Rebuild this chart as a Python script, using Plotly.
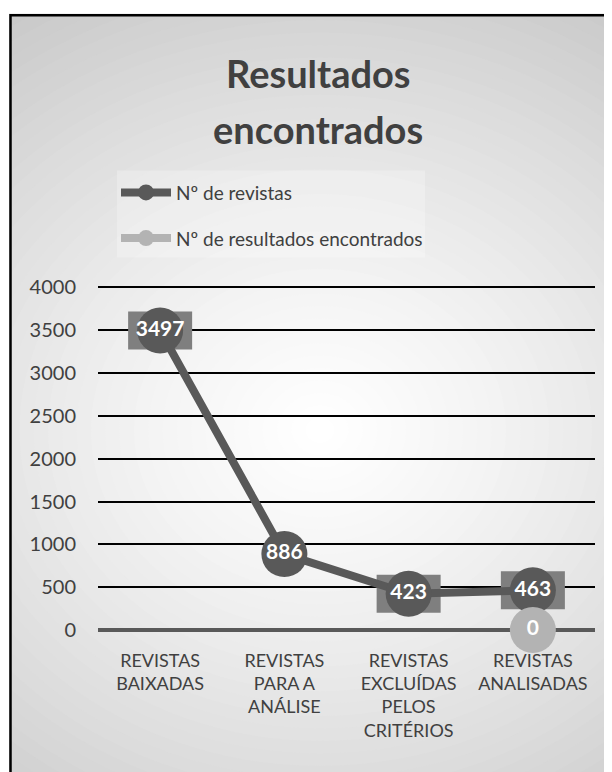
import plotly.graph_objects as go

categories = ["REVISTAS<br>BAIXADAS", "REVISTAS<br>PARA A<br>ANÁLISE",
              "REVISTAS<br>EXCLUÍDAS<br>PELOS<br>CRITÉRIOS", "REVISTAS<br>ANALISADAS"]
revistas = [3497, 886, 423, 463]
resultados = [None, None, None, 0]
label_boxed = [True, False, True, True]
y_ticks = [0, 500, 1000, 1500, 2000, 2500, 3000, 3500, 4000]
title_lines = ["Resultados", "encontrados"]

OFF = 8  # default page body margin
W, H = 612 - OFF, 772 - OFF
YMAX = 4040
# plot area in reference page pixels (4000 at y=287, 0 at y=630)
PL, PR, PB = 98, 595, 630
PT = PB - (630 - 287) * YMAX / 4000
L, R, T, B = PL - OFF, W - (PR - OFF), PT - OFF, H - (PB - OFF)
PW, PH = W - L - R, H - T - B

def px(x):
    return (x - OFF - L) / PW

def py(y):
    return (H - B - (y - OFF)) / PH

FONT = "Lato"
DARK = "#595959"
LIGHT = "#b3b3b3"

fig = go.Figure()
fig.add_trace(go.Scatter(
    x=categories, y=revistas, name="Nº de revistas", mode="lines+markers+text",
    line=dict(color=DARK, width=8), marker=dict(size=46, color=DARK),
    text=[str(v) for v in revistas], textposition="middle center",
    textfont=dict(color="white", size=21, family=FONT, weight="bold"),
    cliponaxis=False, legendgroup="a"))
fig.add_trace(go.Scatter(
    x=categories, y=resultados, name="Nº de resultados encontrados", mode="lines+markers+text",
    line=dict(color=LIGHT, width=8), marker=dict(size=46, color=LIGHT),
    text=["" if v is None else str(v) for v in resultados], textposition="middle center",
    textfont=dict(color="white", size=21, family=FONT, weight="bold"),
    cliponaxis=False, legendgroup="b"))

shapes = []
# radial gradient background
cx, cy = 320, 430
N = 45
Rmax = 560
for i in range(N):
    r = Rmax * (1 - i / N)
    g = int(round(255 - 57 * (r / 520) ** 1.3))
    g = max(190, min(255, g))
    shapes.append(dict(type="circle", xref="paper", yref="paper", layer="below",
                       x0=px(cx - r * 1.15), x1=px(cx + r * 1.15), y0=py(cy + r), y1=py(cy - r),
                       fillcolor=f"rgb({g},{g},{g})", line=dict(width=0)))
# white outside border
shapes.append(dict(type="rect", xref="paper", yref="paper", layer="below",
                   x0=px(-50), x1=px(700), y0=py(13), y1=py(-50),
                   fillcolor="white", line=dict(width=0)))
shapes.append(dict(type="rect", xref="paper", yref="paper", layer="below",
                   x0=px(-50), x1=px(9), y0=py(850), y1=py(-50),
                   fillcolor="white", line=dict(width=0)))
# legend box
shapes.append(dict(type="rect", xref="paper", yref="paper", layer="below",
                   x0=px(117), x1=px(425), y0=py(257), y1=py(170),
                   fillcolor="rgba(255,255,255,0.25)", line=dict(width=0)))
# label boxes
for c, v, bx in zip(categories, revistas, label_boxed):
    if bx:
        shapes.append(dict(type="rect", xref="x", yref="y", layer="between",
                           xsizemode="pixel", ysizemode="pixel", xanchor=c, yanchor=v,
                           x0=-32, x1=32, y0=-19, y1=19,
                           fillcolor="#7f7f7f", line=dict(width=0)))
# frame
shapes.append(dict(type="rect", xref="paper", yref="paper", layer="above",
                   x0=px(10.5), x1=px(640), y0=py(800), y1=py(14.5),
                   fillcolor="rgba(0,0,0,0)", line=dict(color="black", width=2.5)))

annotations = []
for txt, yc in zip(title_lines, [72, 128]):
    annotations.append(dict(text=txt, xref="paper", yref="paper", x=px(318), y=py(yc),
                            xanchor="center", yanchor="middle", showarrow=False,
                            font=dict(family=FONT, size=38, color="#404040", weight="bold")))

fig.update_layout(
    width=W, height=H, margin=dict(l=L, r=R, t=T, b=B),
    paper_bgcolor="white", plot_bgcolor="rgba(0,0,0,0)",
    legend=dict(x=px(116), y=py(173), xanchor="left", yanchor="top", orientation="v",
                bgcolor="rgba(0,0,0,0)", font=dict(family=FONT, size=19, color="#404040"),
                tracegroupgap=18, itemwidth=50),
    showlegend=True,
    font=dict(family=FONT, color="#404040"),
    shapes=shapes,
    annotations=annotations,
    xaxis=dict(showgrid=False, showline=False, zeroline=False, ticks="outside",
               ticklen=14, tickcolor="rgba(0,0,0,0)",
               tickfont=dict(family=FONT, size=18, color="#404040"), range=[-0.5, 3.5]),
    yaxis=dict(range=[0, YMAX], tickvals=y_ticks, showgrid=True, gridcolor="black",
               gridwidth=2, zeroline=True, zerolinecolor=DARK, zerolinewidth=4,
               showline=False, ticks="outside", ticklen=17, tickcolor="rgba(0,0,0,0)",
               tickfont=dict(family=FONT, size=20, color="#404040")),
)
fig.write_html("out.html")
